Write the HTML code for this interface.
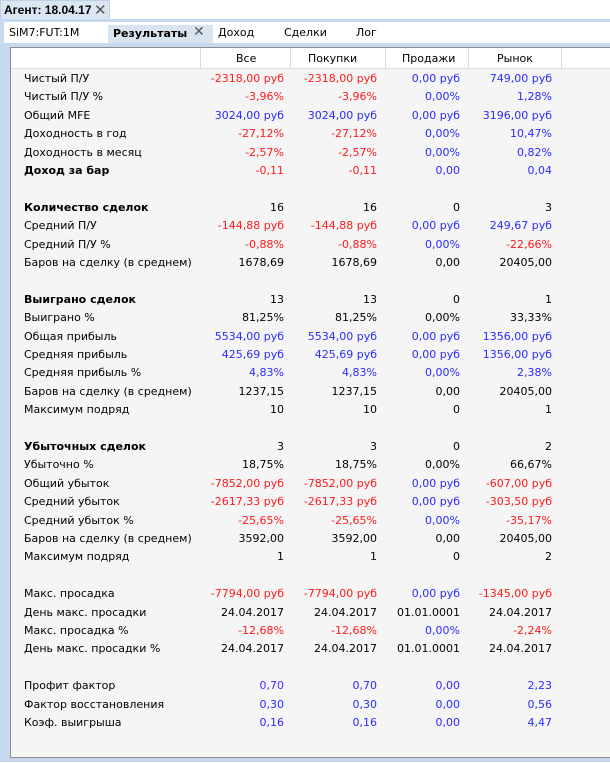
<!DOCTYPE html>
<html><head><meta charset="utf-8"><style>
*{margin:0;padding:0;box-sizing:border-box}
body{width:610px;height:762px;background:#fff;position:relative;overflow:hidden;font-family:Tahoma,"DejaVu Sans","Liberation Sans",sans-serif;font-size:11px;color:#000}
.a{position:absolute;white-space:nowrap}
.r{color:#ff1a1a}.b{color:#2b2bff}.p{color:#4a2bff}
.t{position:absolute;left:0;width:610px;height:18px;line-height:18px}
.t span{position:absolute;white-space:nowrap}
.l{left:24px}.c1{right:326px}.c2{right:233px}.c3{right:150px}.c4{right:58px}
</style></head><body>
<div class="a" style="left:0;top:0;width:110px;height:20px;background:#dbe6f3;border:1px solid #c0d0e6;border-bottom:none"></div>
<div class="a" style="left:4px;top:3px;font-weight:bold;font-size:12px;font-family:'Liberation Sans',sans-serif">Агент: 18.04.17</div>
<div class="a" style="left:94px;top:1px;font-size:15px;color:#555">✕</div>
<div class="a" style="left:0;top:19px;width:610px;height:743px;background:#c8d9ef"></div>
<div class="a" style="left:4px;top:22px;width:606px;height:21px;background:#fff"></div>
<div class="a" style="left:9px;top:26px">SiM7:FUT:1M</div>
<div class="a" style="left:108px;top:25px;width:105px;height:18px;background:#d9e4f1"></div>
<div class="a" style="left:113px;top:27px;font-weight:bold">Результаты</div>
<div class="a" style="left:193px;top:24px;font-size:14px;color:#555">✕</div>
<div class="a" style="left:218px;top:26px">Доход</div>
<div class="a" style="left:284px;top:26px">Сделки</div>
<div class="a" style="left:356px;top:26px">Лог</div>
<div class="a" style="left:10px;top:47px;width:600px;height:711px;background:#f5f5f5;border:1px solid #8c8c8c;border-right:none"></div>
<div class="a" style="left:11px;top:48px;width:599px;height:21px;background:#fff;border-bottom:1px solid #ddd"></div>
<div class="a" style="left:200px;top:48px;width:1px;height:21px;background:#ddd"></div>
<div class="a" style="left:290px;top:48px;width:1px;height:21px;background:#ddd"></div>
<div class="a" style="left:385px;top:48px;width:1px;height:21px;background:#ddd"></div>
<div class="a" style="left:468px;top:48px;width:1px;height:21px;background:#ddd"></div>
<div class="a" style="left:561px;top:48px;width:1px;height:21px;background:#ddd"></div>
<div class="a" style="left:236px;top:52px">Все</div>
<div class="a" style="left:308px;top:52px">Покупки</div>
<div class="a" style="left:402px;top:52px">Продажи</div>
<div class="a" style="left:497px;top:52px">Рынок</div>
<div style="position:absolute;left:0;top:1px;width:610px;height:762px">
<div class="t" style="top:69px"><span class="l">Чистый П/У</span><span class="c1 r">-2318,00 руб</span><span class="c2 r">-2318,00 руб</span><span class="c3 b">0,00 руб</span><span class="c4 b">749,00 руб</span></div>
<div class="t" style="top:87.4px"><span class="l">Чистый П/У %</span><span class="c1 r">-3,96%</span><span class="c2 r">-3,96%</span><span class="c3 b">0,00%</span><span class="c4 b">1,28%</span></div>
<div class="t" style="top:105.8px"><span class="l">Общий MFE</span><span class="c1 b">3024,00 руб</span><span class="c2 b">3024,00 руб</span><span class="c3 b">0,00 руб</span><span class="c4 b">3196,00 руб</span></div>
<div class="t" style="top:124.2px"><span class="l">Доходность в год</span><span class="c1 r">-27,12%</span><span class="c2 r">-27,12%</span><span class="c3 b">0,00%</span><span class="c4 b">10,47%</span></div>
<div class="t" style="top:142.6px"><span class="l">Доходность в месяц</span><span class="c1 r">-2,57%</span><span class="c2 r">-2,57%</span><span class="c3 b">0,00%</span><span class="c4 b">0,82%</span></div>
<div class="t" style="top:161px"><span class="l" style="font-weight:bold">Доход за бар</span><span class="c1 r">-0,11</span><span class="c2 r">-0,11</span><span class="c3 b">0,00</span><span class="c4 b">0,04</span></div>
<div class="t" style="top:197.8px"><span class="l" style="font-weight:bold">Количество сделок</span><span class="c1">16</span><span class="c2">16</span><span class="c3">0</span><span class="c4">3</span></div>
<div class="t" style="top:216.2px"><span class="l">Средний П/У</span><span class="c1 r">-144,88 руб</span><span class="c2 r">-144,88 руб</span><span class="c3 b">0,00 руб</span><span class="c4 b">249,67 руб</span></div>
<div class="t" style="top:234.6px"><span class="l">Средний П/У %</span><span class="c1 r">-0,88%</span><span class="c2 r">-0,88%</span><span class="c3 b">0,00%</span><span class="c4 r">-22,66%</span></div>
<div class="t" style="top:253px"><span class="l">Баров на сделку (в среднем)</span><span class="c1">1678,69</span><span class="c2">1678,69</span><span class="c3">0,00</span><span class="c4">20405,00</span></div>
<div class="t" style="top:289.8px"><span class="l" style="font-weight:bold">Выиграно сделок</span><span class="c1">13</span><span class="c2">13</span><span class="c3">0</span><span class="c4">1</span></div>
<div class="t" style="top:308.2px"><span class="l">Выиграно %</span><span class="c1">81,25%</span><span class="c2">81,25%</span><span class="c3">0,00%</span><span class="c4">33,33%</span></div>
<div class="t" style="top:326.6px"><span class="l">Общая прибыль</span><span class="c1 b">5534,00 руб</span><span class="c2 b">5534,00 руб</span><span class="c3 b">0,00 руб</span><span class="c4 b">1356,00 руб</span></div>
<div class="t" style="top:345px"><span class="l">Средняя прибыль</span><span class="c1 b">425,69 руб</span><span class="c2 b">425,69 руб</span><span class="c3 b">0,00 руб</span><span class="c4 b">1356,00 руб</span></div>
<div class="t" style="top:363.4px"><span class="l">Средняя прибыль %</span><span class="c1 b">4,83%</span><span class="c2 b">4,83%</span><span class="c3 b">0,00%</span><span class="c4 b">2,38%</span></div>
<div class="t" style="top:381.8px"><span class="l">Баров на сделку (в среднем)</span><span class="c1">1237,15</span><span class="c2">1237,15</span><span class="c3">0,00</span><span class="c4">20405,00</span></div>
<div class="t" style="top:400.2px"><span class="l">Максимум подряд</span><span class="c1">10</span><span class="c2">10</span><span class="c3">0</span><span class="c4">1</span></div>
<div class="t" style="top:437px"><span class="l" style="font-weight:bold">Убыточных сделок</span><span class="c1">3</span><span class="c2">3</span><span class="c3">0</span><span class="c4">2</span></div>
<div class="t" style="top:455.4px"><span class="l">Убыточно %</span><span class="c1">18,75%</span><span class="c2">18,75%</span><span class="c3">0,00%</span><span class="c4">66,67%</span></div>
<div class="t" style="top:473.8px"><span class="l">Общий убыток</span><span class="c1 r">-7852,00 руб</span><span class="c2 r">-7852,00 руб</span><span class="c3 b">0,00 руб</span><span class="c4 r">-607,00 руб</span></div>
<div class="t" style="top:492.2px"><span class="l">Средний убыток</span><span class="c1 r">-2617,33 руб</span><span class="c2 r">-2617,33 руб</span><span class="c3 b">0,00 руб</span><span class="c4 r">-303,50 руб</span></div>
<div class="t" style="top:510.6px"><span class="l">Средний убыток %</span><span class="c1 r">-25,65%</span><span class="c2 r">-25,65%</span><span class="c3 b">0,00%</span><span class="c4 r">-35,17%</span></div>
<div class="t" style="top:529px"><span class="l">Баров на сделку (в среднем)</span><span class="c1">3592,00</span><span class="c2">3592,00</span><span class="c3">0,00</span><span class="c4">20405,00</span></div>
<div class="t" style="top:547.4px"><span class="l">Максимум подряд</span><span class="c1">1</span><span class="c2">1</span><span class="c3">0</span><span class="c4">2</span></div>
<div class="t" style="top:584.2px"><span class="l">Макс. просадка</span><span class="c1 r">-7794,00 руб</span><span class="c2 r">-7794,00 руб</span><span class="c3 b">0,00 руб</span><span class="c4 r">-1345,00 руб</span></div>
<div class="t" style="top:602.6px"><span class="l">День макс. просадки</span><span class="c1">24.04.2017</span><span class="c2">24.04.2017</span><span class="c3">01.01.0001</span><span class="c4">24.04.2017</span></div>
<div class="t" style="top:621px"><span class="l">Макс. просадка %</span><span class="c1 r">-12,68%</span><span class="c2 r">-12,68%</span><span class="c3 b">0,00%</span><span class="c4 r">-2,24%</span></div>
<div class="t" style="top:639.4px"><span class="l">День макс. просадки %</span><span class="c1">24.04.2017</span><span class="c2">24.04.2017</span><span class="c3">01.01.0001</span><span class="c4">24.04.2017</span></div>
<div class="t" style="top:676.2px"><span class="l">Профит фактор</span><span class="c1 p">0,70</span><span class="c2 b">0,70</span><span class="c3 b">0,00</span><span class="c4 b">2,23</span></div>
<div class="t" style="top:694.6px"><span class="l">Фактор восстановления</span><span class="c1 b">0,30</span><span class="c2 b">0,30</span><span class="c3 b">0,00</span><span class="c4 b">0,56</span></div>
<div class="t" style="top:713px"><span class="l">Коэф. выигрыша</span><span class="c1 b">0,16</span><span class="c2 b">0,16</span><span class="c3 b">0,00</span><span class="c4 b">4,47</span></div>
</div>
</body></html>
